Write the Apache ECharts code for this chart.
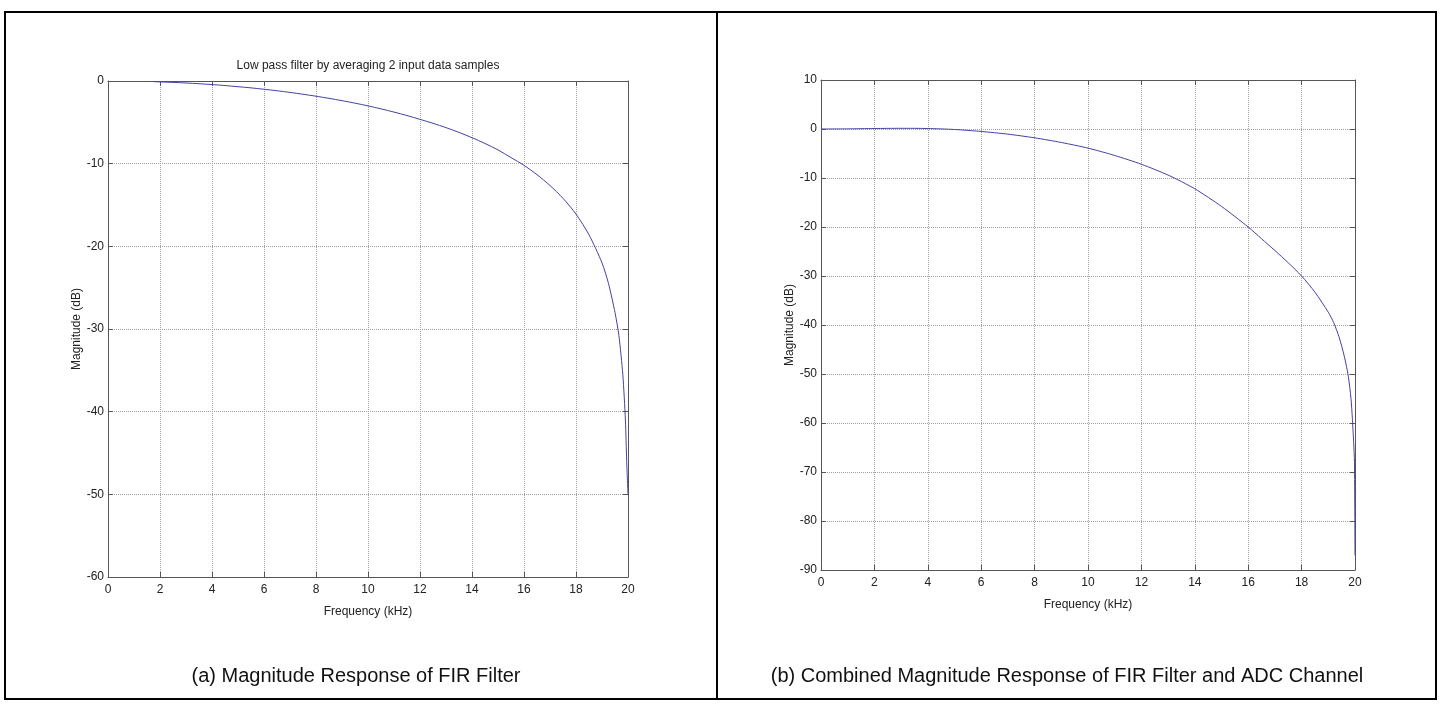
<!DOCTYPE html>
<html>
<head>
<meta charset="utf-8">
<title>FIR filter magnitude response</title>
<script src="https://cdn.jsdelivr.net/npm/echarts@6/dist/echarts.min.js"></script>
<style>
  html, body { margin: 0; padding: 0; background: #fff; }
  #main { width: 1440px; height: 704px; }
</style>
</head>
<body>
<div id="main"></div>
<script>
// (a) averaging filter
var freqA = [1.75, 2, 2.5, 3, 3.5, 4, 4.5, 5, 5.5, 6, 6.5, 7, 7.5, 8, 8.5, 9, 9.5, 10,
  10.5, 11, 11.5, 12, 12.5, 13, 13.5, 14, 14.5, 15, 15.5, 16, 16.5, 17, 17.5, 18,
  18.5, 19, 19.25, 19.5, 19.65, 19.8, 19.9, 19.95, 20];
var magA = [-0.08, -0.11, -0.17, -0.24, -0.33, -0.43, -0.55, -0.69, -0.83, -1.0, -1.18,
  -1.38, -1.6, -1.84, -2.1, -2.38, -2.68, -3.01, -3.37, -3.76, -4.18, -4.64, -5.12,
  -5.64, -6.22, -6.86, -7.56, -8.34, -9.26, -10.2, -11.33, -12.64, -14.19, -16.1,
  -18.6, -22.0, -24.5, -28.0, -30.8, -35.5, -41.0, -46.0, -50.0];

// (b) filter + ADC channel
var freqB = [0, 1, 2, 3, 4, 5, 6, 7, 8, 9, 10, 11, 12, 13, 14, 15, 16, 16.5, 17, 17.5,
  18, 18.5, 19, 19.2, 19.4, 19.6, 19.75, 19.85, 19.9, 19.95, 19.98, 20];
var magB = [0, 0.03, 0.1, 0.14, 0.1, -0.1, -0.5, -1.05, -1.8, -2.75, -3.9, -5.4, -7.2,
  -9.4, -12.2, -15.8, -20.0, -22.4, -24.8, -27.3, -30.0, -33.3, -37.4, -39.5, -42.4,
  -46.4, -50.5, -55.0, -59.0, -64.0, -68.0, -87.0];

var xTicks = [0, 2, 4, 6, 8, 10, 12, 14, 16, 18, 20];
var yTicksA = [0, -10, -20, -30, -40, -50, -60];
var yTicksB = [10, 0, -10, -20, -30, -40, -50, -60, -70, -80, -90];

var plotTitle = "Low pass filter by averaging 2 input data samples";
var captionA = "(a) Magnitude Response of FIR Filter";
var captionB = "(b) Combined Magnitude Response of FIR Filter and ADC Channel";

function pairs(xs, ys) {
  return xs.map(function (x, i) { return [x, ys[i]]; });
}

var FONT = "'Liberation Sans', Arial, Helvetica, sans-serif";
var axisColor = "#555";
var labelStyle = { color: "#222", fontSize: 12, fontFamily: FONT };
var tick = { show: true, inside: true, length: 5, lineStyle: { color: axisColor } };
var line = { show: true, onZero: false, lineStyle: { color: axisColor } };
var grid = { show: true, lineStyle: { type: "dotted", color: "#a0a0a0" } };

// main axis (labels + dotted grid) and a mirror axis for the box ticks
function mainX(g) {
  return {
    type: "value", gridIndex: g, position: "bottom",
    min: xTicks[0], max: xTicks[xTicks.length - 1], interval: xTicks[1] - xTicks[0],
    name: "Frequency (kHz)", nameLocation: "middle", nameGap: 29,
    nameTextStyle: labelStyle,
    axisLine: line, axisTick: tick,
    axisLabel: Object.assign({ margin: 7 }, labelStyle),
    splitLine: grid
  };
}
function mirrorX(g) {
  return {
    type: "value", gridIndex: g, position: "top",
    min: xTicks[0], max: xTicks[xTicks.length - 1], interval: xTicks[1] - xTicks[0],
    axisLine: line, axisTick: tick,
    axisLabel: { show: false }, splitLine: { show: false }
  };
}
function mainY(g, ticks) {
  return {
    type: "value", gridIndex: g, position: "left",
    min: ticks[ticks.length - 1], max: ticks[0], interval: ticks[0] - ticks[1],
    name: "Magnitude (dB)", nameLocation: "middle", nameGap: 23,
    nameTextStyle: labelStyle,
    axisLine: line, axisTick: tick,
    axisLabel: Object.assign({ margin: 4 }, labelStyle),
    splitLine: grid
  };
}
function mirrorY(g, ticks) {
  return {
    type: "value", gridIndex: g, position: "right",
    min: ticks[ticks.length - 1], max: ticks[0], interval: ticks[0] - ticks[1],
    axisLine: line, axisTick: tick,
    axisLabel: { show: false }, splitLine: { show: false }
  };
}

var chart = echarts.init(document.getElementById("main"));

var option = {
  animation: false,
  backgroundColor: "#fff",
  grid: [
    { left: 108, top: 81, width: 520, height: 496 },
    { left: 821, top: 80, width: 534, height: 490 }
  ],
  xAxis: [mainX(0), mirrorX(0), mainX(1), mirrorX(1)],
  yAxis: [mainY(0, yTicksA), mirrorY(0, yTicksA), mainY(1, yTicksB), mirrorY(1, yTicksB)],
  series: [
    {
      type: "line", xAxisIndex: 0, yAxisIndex: 0,
      data: pairs(freqA, magA),
      showSymbol: false, smooth: 0.25,
      lineStyle: { color: "#4242a0", width: 1 }
    },
    {
      type: "line", xAxisIndex: 2, yAxisIndex: 2,
      data: pairs(freqB, magB),
      showSymbol: false, smooth: 0.25,
      lineStyle: { color: "#4242a0", width: 1 }
    }
  ],
  graphic: [
    // outer frame and divider
    {
      type: "rect", shape: { x: 5, y: 12, width: 1431, height: 687 },
      style: { fill: "none", stroke: "#000", lineWidth: 2 }
    },
    {
      type: "line", shape: { x1: 717, y1: 12, x2: 717, y2: 699 },
      style: { stroke: "#000", lineWidth: 2 }
    },
    {
      type: "text", x: 368, y: 66,
      style: {
        text: plotTitle, font: "12px " + FONT, fill: "#222",
        align: "center", verticalAlign: "middle",
        textAlign: "center", textVerticalAlign: "middle"
      }
    },
    {
      type: "text", x: 356, y: 676,
      style: {
        text: captionA, font: "20px " + FONT, fill: "#111",
        align: "center", verticalAlign: "middle",
        textAlign: "center", textVerticalAlign: "middle"
      }
    },
    {
      type: "text", x: 1067, y: 676,
      style: {
        text: captionB, font: "20px " + FONT, fill: "#111",
        align: "center", verticalAlign: "middle",
        textAlign: "center", textVerticalAlign: "middle"
      }
    }
  ]
};

chart.setOption(option);
</script>
</body>
</html>
